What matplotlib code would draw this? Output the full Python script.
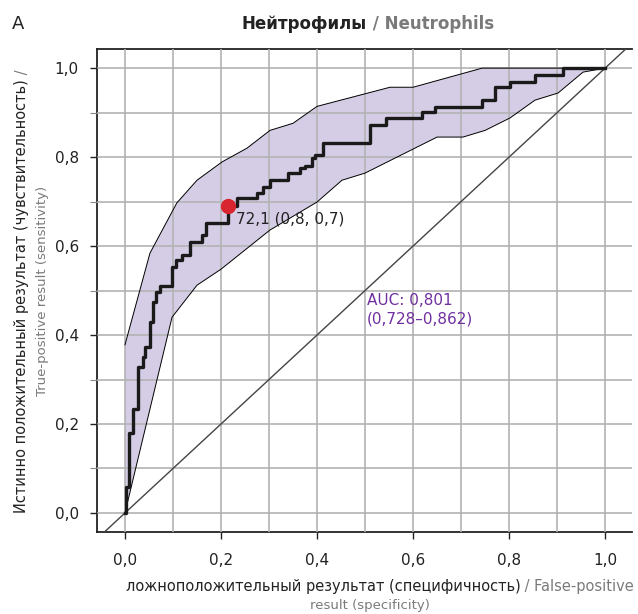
import matplotlib
matplotlib.use("Agg")
import matplotlib.pyplot as plt
from matplotlib.ticker import MultipleLocator, FuncFormatter

# ROC curve (step vertices: top of each vertical jump)
roc_fpr = [0.0, 0.002, 0.009, 0.017, 0.027, 0.037, 0.042, 0.052, 0.058, 0.065,
           0.073, 0.098, 0.106, 0.119, 0.135, 0.160, 0.169, 0.215, 0.233, 0.275,
           0.288, 0.302, 0.340, 0.365, 0.375, 0.390, 0.396, 0.413, 0.510, 0.544,
           0.619, 0.646, 0.744, 0.771, 0.802, 0.854, 0.913, 1.0]
roc_tpr = [0.0, 0.058, 0.180, 0.234, 0.328, 0.350, 0.373, 0.430, 0.474, 0.497,
           0.510, 0.553, 0.568, 0.580, 0.609, 0.625, 0.652, 0.690, 0.708, 0.719,
           0.733, 0.748, 0.764, 0.775, 0.780, 0.798, 0.804, 0.831, 0.872, 0.888,
           0.901, 0.912, 0.928, 0.957, 0.969, 0.984, 1.0, 1.0]

# confidence band
upper_x = [0.0, 0.052, 0.108, 0.150, 0.202, 0.254, 0.302, 0.350, 0.400, 0.552, 0.600, 0.744, 1.0]
upper_y = [0.378, 0.584, 0.697, 0.748, 0.789, 0.820, 0.860, 0.876, 0.914, 0.957, 0.957, 1.0, 1.0]
lower_x = [0.0, 0.098, 0.150, 0.200, 0.302, 0.400, 0.452, 0.500, 0.650, 0.704, 0.750, 0.802, 0.854, 0.902, 0.954, 1.0]
lower_y = [0.0, 0.440, 0.512, 0.548, 0.636, 0.699, 0.748, 0.764, 0.845, 0.845, 0.860, 0.888, 0.928, 0.944, 0.991, 1.0]

cut_x, cut_y = 0.215, 0.690
cut_label = "72,1 (0,8, 0,7)"
auc_label = "AUC: 0,801\n(0,728–0,862)"

GREY = "#7a7a7a"
plt.rcParams['font.family'] = ['DejaVu Sans']

fig = plt.figure(figsize=(6.38, 6.14), dpi=100)
ax = fig.add_axes([0.152, 0.1336, 0.8386, 0.7864])

poly_x = upper_x + lower_x[::-1]
poly_y = upper_y + lower_y[::-1]
ax.fill(poly_x, poly_y, color="#d5cde5", lw=0, zorder=2)
ax.plot(upper_x, upper_y, color="black", lw=0.7, zorder=3)
ax.plot(lower_x, lower_y, color="black", lw=0.7, zorder=3)

ax.plot([-0.1, 1.1], [-0.1, 1.1], color="#444444", lw=1.0, zorder=3)
ax.step(roc_fpr, roc_tpr, where="post", color="#1a1a1a", lw=2.4, zorder=4)
ax.plot(cut_x, cut_y, "o", color="#d9252f", ms=10, zorder=5)
ax.text(cut_x + 0.016, cut_y - 0.03, cut_label, fontsize=11, color="#222222",
        va="center", ha="left", zorder=6)
ax.text(0.504, 0.494, auc_label, fontsize=11, color="#7030a0", va="top", ha="left",
        linespacing=1.3, zorder=6)

ax.set_xlim(-0.0583, 1.056)
ax.set_ylim(-0.0427, 1.0427)
ax.xaxis.set_major_locator(MultipleLocator(0.2))
ax.yaxis.set_major_locator(MultipleLocator(0.2))
ax.xaxis.set_minor_locator(MultipleLocator(0.1))
ax.yaxis.set_minor_locator(MultipleLocator(0.1))
ax.set_axisbelow(False)  # grid shows through the band
ax.grid(True, which="both", color="#b3b3b3", lw=1.2)
fmt = FuncFormatter(lambda v, p: f"{v:.1f}".replace(".", ","))
ax.xaxis.set_major_formatter(fmt)
ax.yaxis.set_major_formatter(fmt)
ax.tick_params(axis="both", which="major", labelsize=11, length=5, width=1,
               color="#222222", labelcolor="#222222", pad=8)
ax.tick_params(axis="y", which="minor", length=5, width=0.8, color="#888888")
ax.tick_params(axis="x", which="minor", length=0)
ax.tick_params(axis="x", pad=10)
ax.spines["right"].set_visible(False)
for s in ["left", "bottom", "top"]:
    ax.spines[s].set_linewidth(1.3)
    ax.spines[s].set_color("#222222")

W, H = 638, 614
renderer = fig.canvas.get_renderer()


def pieces(cx, cy, parts, size, rotation=0):
    # place coloured text pieces one after another, centred at (cx, cy) pixels
    texts = []
    for s, c, w in parts:
        t = fig.text(0, 0, s, color=c, fontsize=size, fontweight=w, rotation=rotation,
                     ha="left" if rotation == 0 else "center",
                     va="center" if rotation == 0 else "bottom")
        texts.append(t)
    ext = [t.get_window_extent(renderer) for t in texts]
    if rotation == 0:
        total = sum(e.width for e in ext)
        pos = cx - total / 2
        for t, e in zip(texts, ext):
            t.set_position((pos / W, 1 - cy / H))
            pos += e.width
    else:
        total = sum(e.height for e in ext)
        pos = (H - cy) - total / 2
        for t, e in zip(texts, ext):
            t.set_position((cx / W, pos / H))
            pos += e.height


fig.text(12 / W, 1 - 24 / H, "A", fontsize=13, ha="left", va="center", color="#222222")
pieces(368, 24, [("Нейтрофилы", "#222222", "bold"), (" / Neutrophils", GREY, "bold")], 12)
pieces(380, 587, [("ложноположительный результат (специфичность)", "#222222", "normal"),
                  (" / False-positive", GREY, "normal")], 10.5)
pieces(370, 605, [("result (specificity)", GREY, "normal")], 9.5)
pieces(22, 291, [("Истинно положительный результат (чувствительность)", "#222222", "normal"),
                 (" /", GREY, "normal")], 10.5, rotation=90)
pieces(43, 291, [("True-positive result (sensitivity)", GREY, "normal")], 9.5, rotation=90)

fig.savefig("out.png", dpi=100)
